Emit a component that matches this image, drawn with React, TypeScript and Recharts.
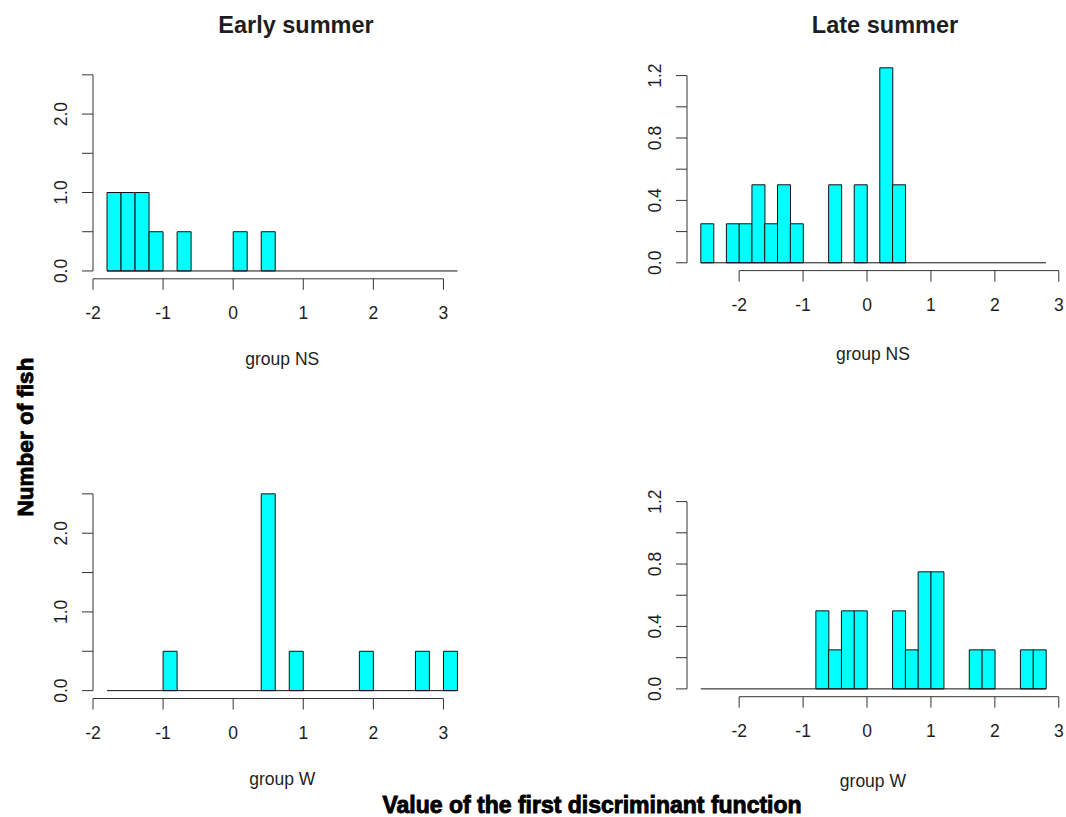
import React from 'react';
import { ComposedChart, Bar, XAxis, YAxis, ReferenceLine } from 'recharts';

// ---------- data ----------
const xTickValues = [-2, -1, 0, 1, 2, 3];

// Early summer: bins of width 0.2 starting at these values
const earlyBinStarts = [
  -1.8, -1.6, -1.4, -1.2, -1.0, -0.8, -0.6, -0.4, -0.2, 0.0, 0.2, 0.4, 0.6,
  0.8, 1.0, 1.2, 1.4, 1.6, 1.8, 2.0, 2.2, 2.4, 2.6, 2.8, 3.0,
];
const earlyNS = [1, 1, 1, 0.5, 0, 0.5, 0, 0, 0, 0.5, 0, 0.5, 0, 0, 0, 0, 0, 0, 0, 0, 0, 0, 0, 0, 0];
const earlyW = [0, 0, 0, 0, 0.5, 0, 0, 0, 0, 0, 0, 2.5, 0, 0.5, 0, 0, 0, 0, 0.5, 0, 0, 0, 0.5, 0, 0.5];

// Late summer: bins of width 0.2 starting at these values
const lateBinStarts = [
  -2.6, -2.4, -2.2, -2.0, -1.8, -1.6, -1.4, -1.2, -1.0, -0.8, -0.6, -0.4, -0.2,
  0.0, 0.2, 0.4, 0.6, 0.8, 1.0, 1.2, 1.4, 1.6, 1.8, 2.0, 2.2, 2.4, 2.6,
];
const lateNS = [0.25, 0, 0.25, 0.25, 0.5, 0.25, 0.5, 0.25, 0, 0, 0.5, 0, 0.5, 0, 1.25, 0.5, 0, 0, 0, 0, 0, 0, 0, 0, 0, 0, 0];
const lateW = [0, 0, 0, 0, 0, 0, 0, 0, 0, 0.5, 0.25, 0.5, 0.5, 0, 0, 0.5, 0.25, 0.75, 0.75, 0, 0, 0.25, 0.25, 0, 0, 0.25, 0.25];

const binWidth = 0.2;
const earlyYTicks = [0, 0.5, 1, 1.5, 2, 2.5];
const earlyYLabelValues = [0, 1, 2];
const lateYTicks = [0, 0.2, 0.4, 0.6, 0.8, 1, 1.2];
const lateYLabelValues = [0, 0.4, 0.8, 1.2];

const titles = ['Early summer', 'Late summer'];
const groupTitles = ['group NS', 'group W'];
const yTitle = 'Number of fish';
const xTitle = 'Value of the first discriminant function';

// ---------- style ----------
const FONT = '"Liberation Sans", Arial, Helvetica, sans-serif';
const INK = '#1e1e1e';
const AXIS = '#333';
const FILL = '#00FFFF';

type Box = { left: number; top: number; right: number; bottom: number; titleDy: number };

const XTick = (props: any) => {
  const { x, y, payload } = props;
  return (
    <text x={x} y={y + 29} textAnchor="middle" fontSize={17.5} fill={INK} fontFamily={FONT}>
      {String(payload.value)}
    </text>
  );
};

const makeYTick = (labels: number[]) => (props: any) => {
  const { x, y, payload } = props;
  const v = payload.value as number;
  if (!labels.some((l) => Math.abs(l - v) < 1e-9)) return <g />;
  return (
    <text
      transform={`translate(${x - 15},${y}) rotate(-90)`}
      textAnchor="middle"
      fontSize={17.5}
      fill={INK}
      fontFamily={FONT}
    >
      {v.toFixed(1)}
    </text>
  );
};

type PanelProps = {
  box: Box;
  xDomain: [number, number];
  yDomain: [number, number];
  binStarts: number[];
  values: number[];
  yTicks: number[];
  yLabelValues: number[];
};

function Panel({ box, xDomain, yDomain, binStarts, values, yTicks, yLabelValues }: PanelProps) {
  const padT = 10;
  const padR = 10;
  const yAxisW = 90;
  const xAxisH = 60;
  const plotW = box.right - box.left;
  const plotH = box.bottom - box.top;
  const width = plotW + yAxisW + padR;
  const height = plotH + padT + xAxisH;
  const binEnd = binStarts[binStarts.length - 1] + binWidth;
  const span = xDomain[1] - xDomain[0];
  const catPadL = ((binStarts[0] - xDomain[0]) / span) * plotW;
  const catPadR = ((xDomain[1] - binEnd) / span) * plotW;
  const data = binStarts.map((b, i) => ({ bin: b.toFixed(1), x: b, count: values[i] }));
  const YTick = makeYTick(yLabelValues);

  return (
    <div style={{ position: 'absolute', left: box.left - yAxisW, top: box.top - padT }}>
      <ComposedChart
        width={width}
        height={height}
        data={data}
        margin={{ top: padT, right: padR, bottom: 0, left: 0 }}
        barCategoryGap={0}
        barGap={0}
      >
        <XAxis
          xAxisId="cat"
          dataKey="bin"
          type="category"
          orientation="top"
          height={0}
          hide
          padding={{ left: catPadL, right: catPadR }}
        />
        <XAxis
          xAxisId="num"
          dataKey="x"
          type="number"
          domain={xDomain}
          ticks={xTickValues}
          allowDataOverflow
          interval={0}
          axisLine={false}
          tickLine={{ stroke: AXIS, strokeWidth: 1 }}
          tickSize={11}
          tickMargin={0}
          height={xAxisH}
          tick={<XTick />}
        />
        <YAxis
          type="number"
          domain={yDomain}
          ticks={yTicks}
          allowDataOverflow
          interval={0}
          axisLine={false}
          width={yAxisW}
          tickSize={11}
          tickMargin={0}
          tickLine={{ stroke: AXIS, strokeWidth: 1 }}
          tick={<YTick />}
        />
        <Bar
          xAxisId="cat"
          dataKey="count"
          fill={FILL}
          stroke="#111"
          strokeWidth={1}
          isAnimationActive={false}
        />
        <ReferenceLine
          xAxisId="num"
          segment={[
            { x: binStarts[0], y: 0 },
            { x: binEnd, y: 0 },
          ]}
          stroke="#111"
          strokeWidth={1}
          ifOverflow="visible"
        />
        <ReferenceLine
          xAxisId="num"
          segment={[
            { x: xTickValues[0], y: yDomain[0] },
            { x: xTickValues[xTickValues.length - 1], y: yDomain[0] },
          ]}
          stroke={AXIS}
          strokeWidth={1}
          ifOverflow="visible"
        />
        <ReferenceLine
          xAxisId="num"
          segment={[
            { x: xDomain[0], y: yTicks[0] },
            { x: xDomain[0], y: yTicks[yTicks.length - 1] },
          ]}
          stroke={AXIS}
          strokeWidth={1}
          ifOverflow="visible"
        />
      </ComposedChart>
    </div>
  );
}

// ---------- layout ----------
const leftX: [number, number] = [-2.0, 3.4];
const rightX: [number, number] = [-2.816, 3.016];
const earlyY: [number, number] = [-0.1, 2.6];
const lateY: [number, number] = [-0.05, 1.3];

const boxes: Box[] = [
  { left: 93, top: 67.2, right: 471.5, bottom: 279, titleDy: 86 },
  { left: 686.5, top: 60.4, right: 1059.3, bottom: 271, titleDy: 89 },
  { left: 93, top: 486.1, right: 471.5, bottom: 698.6, titleDy: 86 },
  { left: 686.5, top: 486.4, right: 1059.3, bottom: 697.1, titleDy: 90 },
];

export default function App() {
  return (
    <div
      style={{
        position: 'absolute',
        left: 0,
        top: 0,
        width: 1066,
        height: 817,
        background: '#fff',
        overflow: 'hidden',
      }}
    >
      <Panel box={boxes[0]} xDomain={leftX} yDomain={earlyY} binStarts={earlyBinStarts} values={earlyNS} yTicks={earlyYTicks} yLabelValues={earlyYLabelValues} />
      <Panel box={boxes[1]} xDomain={rightX} yDomain={lateY} binStarts={lateBinStarts} values={lateNS} yTicks={lateYTicks} yLabelValues={lateYLabelValues} />
      <Panel box={boxes[2]} xDomain={leftX} yDomain={earlyY} binStarts={earlyBinStarts} values={earlyW} yTicks={earlyYTicks} yLabelValues={earlyYLabelValues} />
      <Panel box={boxes[3]} xDomain={rightX} yDomain={lateY} binStarts={lateBinStarts} values={lateW} yTicks={lateYTicks} yLabelValues={lateYLabelValues} />
      <svg
        width={1066}
        height={817}
        style={{ position: 'absolute', left: 0, top: 0, pointerEvents: 'none' }}
      >
        {boxes.map((b, i) => (
          <text
            key={i}
            x={(b.left + b.right) / 2}
            y={b.bottom + b.titleDy}
            textAnchor="middle"
            fontSize={17.5}
            fill={INK}
            fontFamily={FONT}
          >
            {groupTitles[i < 2 ? 0 : 1]}
          </text>
        ))}
        <text x={296} y={33} textAnchor="middle" fontSize={23.5} fontWeight="bold" fill={INK} fontFamily={FONT}>
          {titles[0]}
        </text>
        <text x={885} y={33} textAnchor="middle" fontSize={23.5} fontWeight="bold" fill={INK} fontFamily={FONT}>
          {titles[1]}
        </text>
        <text
          transform="translate(33,437) rotate(-90)"
          textAnchor="middle"
          fontSize={22.5}
          fontWeight="bold"
          fill="#000"
          stroke="#000"
          strokeWidth={0.9}
          fontFamily={FONT}
        >
          {yTitle}
        </text>
        <text
          x={592}
          y={813}
          textAnchor="middle"
          fontSize={23}
          fontWeight="bold"
          fill="#000"
          stroke="#000"
          strokeWidth={0.9}
          fontFamily={FONT}
        >
          {xTitle}
        </text>
      </svg>
    </div>
  );
}
